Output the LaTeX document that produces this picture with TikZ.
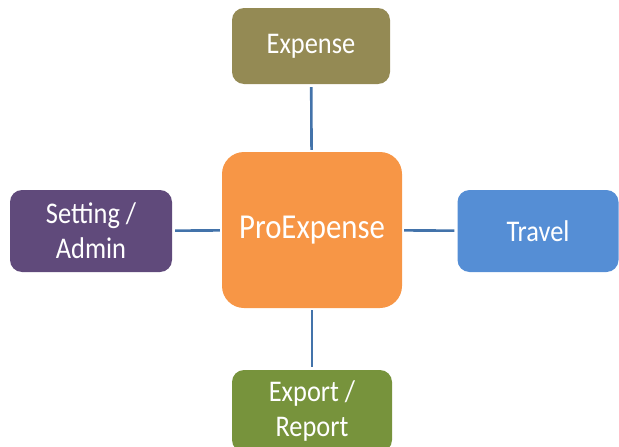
\documentclass[tikz,border=0pt]{standalone}
\usepackage{fontspec}
\setmainfont[FakeStretch=0.88]{Carlito}
\definecolor{expcol}{HTML}{948A54}
\definecolor{procol}{HTML}{F79646}
\definecolor{setcol}{HTML}{604A7B}
\definecolor{travcol}{HTML}{558ED5}
\definecolor{repcol}{HTML}{77933C}
\definecolor{linkcol}{HTML}{4373AA}
\begin{document}
\begin{tikzpicture}[x=1pt,y=-1pt,
  module/.style={rectangle,rounded corners=12pt,draw=none,text=white,font=\fontsize{30}{35}\selectfont,
    align=center,inner sep=0pt,minimum width=160pt,minimum height=80pt},
  core/.style={module,rounded corners=22pt,minimum width=180pt,minimum height=156pt,
    font=\fontsize{35}{40}\selectfont},
  link/.style={draw=linkcol,line width=2.6pt,shorten <=3pt,shorten >=2pt}]

  \clip (0,0) rectangle (619,447);
  \useasboundingbox (0,0) rectangle (619,447);

  \node[core,fill=procol] (pro) at (312,230) {ProExpense};
  \node[module,fill=expcol,minimum width=158pt,minimum height=76pt] (exp) at (311,46) {Expense};
  \node[module,fill=setcol,minimum width=162pt,minimum height=82pt] (set) at (91,231) {Setting /\\Admin};
  \node[module,fill=travcol,minimum width=161pt,minimum height=82pt] (trav) at (538,231) {Travel};
  \node[module,fill=repcol,minimum height=82pt] (rep) at (312,411) {Export /\\Report};

  \path[link]
   (exp) edge (pro)
   (set) edge (pro)
   (trav) edge (pro)
   (rep) edge (pro);
\end{tikzpicture}
\end{document}
